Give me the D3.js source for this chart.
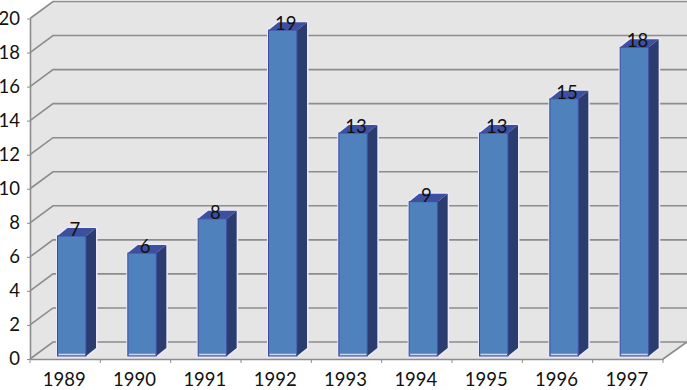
<!DOCTYPE html>
<html>
<head>
<meta charset="utf-8">
<script src="https://cdn.jsdelivr.net/npm/d3@7"></script>
<style>
  html, body { margin: 0; padding: 0; background: #fff; }
  svg { display: block; }
  text { font-family: Lato, "Open Sans", sans-serif; fill: #111; }
</style>
</head>
<body>
<div id="chart"></div>
<script>
const years = ["1989", "1990", "1991", "1992", "1993", "1994", "1995", "1996", "1997"]
const counts = [7, 6, 8, 19, 13, 9, 13, 15, 18]
const yTicks = [0, 2, 4, 6, 8, 10, 12, 14, 16, 18, 20]

const width = 687
const height = 390
const depthX = 23          // how far the back wall sits from the axis plane
const depthY = 17
const barDepthX = 10
const barDepthY = 8
const fontSize = "18.5px"

const xScale = d3.scaleBand(years, [30, 663])
const yScale = d3.scaleLinear([0, 20], [359, 18.5])
const barY = d3.scaleLinear([0, 20], [356, 13])   // bars stand a bit forward of the axis plane

const svg = d3.select("#chart").append("svg")
    .attr("width", width)
    .attr("height", height)
    .attr("viewBox", [0, 0, width, height])

const x0 = xScale.range()[0]
const x1 = xScale.range()[1]
const yBase = yScale(0)
const yTop = yScale(20)

// walls and floor
const pts = a => a.map(p => p.join(",")).join(" ")
svg.append("polygon")
    .attr("fill", "#e5e5e5")
    .attr("points", pts([[x0, yTop], [x0 + depthX, yTop - depthY], [width, yTop - depthY],
        [width, yBase - depthY], [x1, yBase], [x0, yBase]]))

// grid lines, running up the side wall and then across the back
svg.append("g")
    .attr("fill", "none")
    .attr("stroke", "#8c8c8c")
    .attr("stroke-width", 1.6)
    .selectAll("polyline")
    .data(yTicks)
    .join("polyline")
    .attr("points", d => pts([[x0, yScale(d)], [x0 + depthX, yScale(d) - depthY], [width, yScale(d) - depthY]]))

// floor right edge
svg.append("polyline")
    .attr("fill", "none")
    .attr("stroke", "#8c8c8c")
    .attr("stroke-width", 1.6)
    .attr("points", pts([[x1, yBase], [width, yBase - depthY]]))

// axes
const xAxis = d3.axisBottom(xScale).tickSize(0).tickSizeOuter(0).tickPadding(14)
const yAxis = d3.axisLeft(yScale).tickValues(yTicks).tickSize(3).tickSizeOuter(0).tickPadding(7)

const gx = svg.append("g")
    .attr("transform", `translate(0,${yBase})`)
    .call(xAxis)
gx.select(".domain").attr("stroke", "#8c8c8c").attr("stroke-width", 1.6)
gx.selectAll("text").style("font-size", fontSize).attr("dx", -1)
gx.selectAll(".edge")
    .data(d3.range(years.length + 1))
    .join("line")
    .attr("stroke", "#8c8c8c")
    .attr("x1", i => x0 + i * xScale.step())
    .attr("x2", i => x0 + i * xScale.step())
    .attr("y1", 0)
    .attr("y2", 4)

const gy = svg.append("g")
    .attr("transform", `translate(${x0},0)`)
    .call(yAxis)
gy.select(".domain").attr("stroke", "#8c8c8c").attr("stroke-width", 1.6)
gy.selectAll("line").attr("stroke", "#8c8c8c")
gy.selectAll("text").style("font-size", fontSize).style("fill", "#111")

// bars
const barOffset = 27.5
const barWidth = 28.5
const bar = svg.append("g")
    .selectAll("g")
    .data(years.map((y, i) => ({ year: y, value: counts[i] })))
    .join("g")
    .attr("transform", d => `translate(${xScale(d.year) + barOffset},0)`)

// pale halo round each bar
bar.append("polygon")
    .attr("fill", "none")
    .attr("stroke", "#eceaf8")
    .attr("stroke-width", 3)
    .attr("points", d => pts([[0, barY(0)], [0, barY(d.value)], [barDepthX, barY(d.value) - barDepthY],
        [barWidth + barDepthX, barY(d.value) - barDepthY], [barWidth + barDepthX, barY(0) - barDepthY], [barWidth, barY(0)]]))

bar.append("polygon")
    .attr("fill", "#2b3d6e")
    .attr("points", d => pts([[barWidth, barY(d.value)], [barWidth + barDepthX, barY(d.value) - barDepthY],
        [barWidth + barDepthX, barY(0) - barDepthY], [barWidth, barY(0)]]))

bar.append("polygon")
    .attr("fill", "#3d50a0")
    .attr("points", d => pts([[0, barY(d.value)], [barDepthX, barY(d.value) - barDepthY],
        [barWidth + barDepthX, barY(d.value) - barDepthY], [barWidth, barY(d.value)]]))

bar.append("rect")
    .attr("x", 0)
    .attr("y", d => barY(d.value))
    .attr("width", barWidth)
    .attr("height", d => barY(0) - barY(d.value))
    .attr("fill", "#4f81bd")
    .attr("stroke", "#3a4aa0")
    .attr("stroke-width", 1)

// pale strip just above the foot of each bar
bar.append("line")
    .attr("x1", 1)
    .attr("x2", barWidth - 1)
    .attr("y1", barY(0) - 1.5)
    .attr("y2", barY(0) - 1.5)
    .attr("stroke", "#cfd6f0")
    .attr("stroke-width", 1.5)

// value labels
bar.append("text")
    .attr("x", barWidth / 2 + 3)
    .attr("y", d => barY(d.value))
    .attr("text-anchor", "middle")
    .style("font-size", fontSize)
    .text(d => d.value)
</script>
</body>
</html>
